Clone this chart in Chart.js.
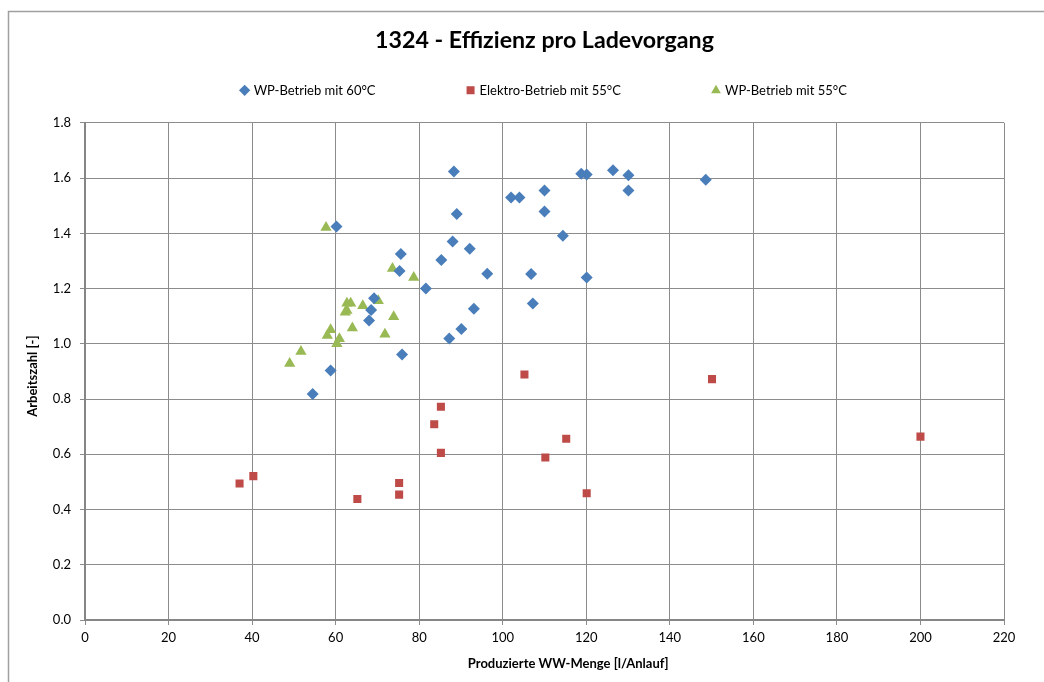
<!DOCTYPE html>
<html>
<head>
<meta charset="utf-8">
<title>1324 - Effizienz pro Ladevorgang</title>
<script src="https://cdn.jsdelivr.net/npm/chart.js@4"></script>
<style>
  html, body { margin: 0; padding: 0; background: #ffffff; }
  #wrap { width: 1044px; height: 682px; position: relative; }
</style>
</head>
<body>
<div id="wrap"><canvas id="effizienz"></canvas></div>
<script>
// Werte
var wp60X = [88.3, 118.8, 120.1, 126.4, 130.1, 130.1, 102.0, 104.0, 110.0, 110.0, 89.0, 60.2, 114.4, 88.0, 92.1,
             75.6, 85.3, 75.3, 96.3, 106.8, 120.1, 81.6, 69.2, 107.2, 68.5, 93.1, 68.0, 90.1, 87.2, 75.9, 58.8, 54.5, 148.6];
var wp60Y = [1.624, 1.616, 1.613, 1.628, 1.61, 1.555, 1.53, 1.53, 1.555, 1.479, 1.47, 1.425, 1.391, 1.37, 1.344,
             1.325, 1.303, 1.264, 1.254, 1.253, 1.24, 1.2, 1.165, 1.146, 1.122, 1.127, 1.084, 1.054, 1.019, 0.961, 0.903, 0.818, 1.594];

var elektro55X = [105.2, 85.2, 83.6, 115.2, 85.2, 110.2, 40.3, 37.0, 75.2, 75.2, 120.1, 65.2, 150.1, 200.0];
var elektro55Y = [0.889, 0.772, 0.709, 0.656, 0.605, 0.588, 0.521, 0.494, 0.496, 0.454, 0.459, 0.438, 0.872, 0.664];

var wp55X = [57.7, 73.6, 78.7, 62.7, 63.6, 66.5, 70.2, 62.3, 62.7, 73.9, 64.0, 58.8, 58.0, 71.8, 60.9, 60.3, 51.7, 49.0];
var wp55Y = [1.421, 1.273, 1.24, 1.147, 1.147, 1.138, 1.156, 1.114, 1.121, 1.098, 1.057, 1.051, 1.03, 1.035, 1.018, 1.0, 0.972, 0.929];

var xMin = 0, xMax = 220, xStep = 20;
var yMin = 0, yMax = 1.8, yStep = 0.2;

function toPoints(xs, ys) {
  return xs.map(function (x, i) { return { x: x, y: ys[i] }; });
}

var fontFamily = 'Lato, "Open Sans", sans-serif';
var gridColor = '#8c8c8c';
var nbsp = '\u00a0';
// Abstand zwischen den Legendeneintraegen wie in Excel
var legendGap = nbsp.repeat(20);

// Rahmen um das ganze Diagramm (links und oben sichtbar)
var frame = {
  id: 'frame',
  beforeDraw: function (chart) {
    var ctx = chart.ctx;
    ctx.save();
    ctx.fillStyle = '#ffffff';
    ctx.fillRect(0, 0, chart.width, chart.height);
    ctx.strokeStyle = '#a0a0a0';
    ctx.lineWidth = 1.5;
    ctx.beginPath();
    ctx.moveTo(8.5, chart.height + 2);
    ctx.lineTo(8.5, 11.5);
    ctx.lineTo(chart.width + 2, 11.5);
    ctx.stroke();
    ctx.restore();
  }
};

// etwas mehr Luft unter der Legende
var legendMargin = {
  id: 'legendMargin',
  afterInit: function (chart) {
    var fitLegend = chart.legend.fit;
    chart.legend.fit = function () {
      fitLegend.call(this);
      this.height += 16;
    };
  }
};

var ctx = document.getElementById('effizienz').getContext('2d');

new Chart(ctx, {
  type: 'scatter',
  data: {
    datasets: [
      {
        label: 'WP-Betrieb mit 60°C',
        data: toPoints(wp60X, wp60Y),
        pointStyle: 'rectRot',
        pointRadius: 6,
        pointHoverRadius: 7,
        backgroundColor: '#4a7ebb',
        borderColor: '#4a7ebb',
        borderWidth: 0
      },
      {
        label: 'Elektro-Betrieb mit 55°C',
        data: toPoints(elektro55X, elektro55Y),
        pointStyle: 'rect',
        pointRadius: 5.7,
        pointHoverRadius: 6.5,
        backgroundColor: '#be4b48',
        borderColor: '#be4b48',
        borderWidth: 0
      },
      {
        label: 'WP-Betrieb mit 55°C',
        data: toPoints(wp55X, wp55Y),
        pointStyle: 'triangle',
        pointRadius: 6.5,
        pointHoverRadius: 7.5,
        backgroundColor: '#98b954',
        borderColor: '#98b954',
        borderWidth: 0
      }
    ]
  },
  options: {
    responsive: true,
    maintainAspectRatio: false,
    animation: false,
    layout: {
      padding: { left: 12, right: 40, top: 0, bottom: 8 }
    },
    plugins: {
      title: {
        display: true,
        fullSize: false,
        text: '1324 - Effizienz pro Ladevorgang',
        color: '#000000',
        font: { family: fontFamily, size: 23.2, weight: 'bold' },
        padding: { top: 27, bottom: 3 }
      },
      legend: {
        display: true,
        fullSize: false,
        position: 'top',
        labels: {
          usePointStyle: true,
          boxWidth: 5,
          boxHeight: 8,
          padding: 26,
          color: '#000000',
          font: { family: fontFamily, size: 13 },
          generateLabels: function (chart) {
            var items = Chart.defaults.plugins.legend.labels.generateLabels(chart);
            items.forEach(function (item, i) {
              if (i < items.length - 1) item.text += legendGap;
            });
            return items;
          }
        }
      },
      tooltip: { enabled: true }
    },
    scales: {
      x: {
        type: 'linear',
        min: xMin,
        max: xMax,
        afterFit: function (scale) { scale.height = 54; },
        ticks: {
          stepSize: xStep,
          color: '#000000',
          padding: 5,
          font: { family: fontFamily, size: 13 }
        },
        grid: {
          color: gridColor,
          lineWidth: 1,
          tickLength: 5
        },
        border: { display: true, color: '#868686', width: 2 },
        title: {
          display: true,
          text: nbsp.repeat(15) + 'Produzierte WW-Menge [l/Anlauf]',
          color: '#000000',
          font: { family: fontFamily, size: 13, weight: 'bold' },
          padding: { top: 2, bottom: 2.8 }
        }
      },
      y: {
        type: 'linear',
        min: yMin,
        max: yMax,
        afterFit: function (scale) { scale.width = 73; },
        ticks: {
          stepSize: yStep,
          color: '#000000',
          padding: 9,
          font: { family: fontFamily, size: 13 },
          callback: function (value) { return Number(value).toFixed(1); }
        },
        grid: {
          color: gridColor,
          lineWidth: 1,
          tickLength: 5
        },
        border: { display: true, color: '#868686', width: 2 },
        title: {
          display: true,
          text: 'Arbeitszahl [-]' + nbsp.repeat(3),
          color: '#000000',
          font: { family: fontFamily, size: 13, weight: 'bold' },
          padding: { top: 13, bottom: 0 }
        }
      }
    }
  },
  plugins: [frame, legendMargin]
});
</script>
</body>
</html>
